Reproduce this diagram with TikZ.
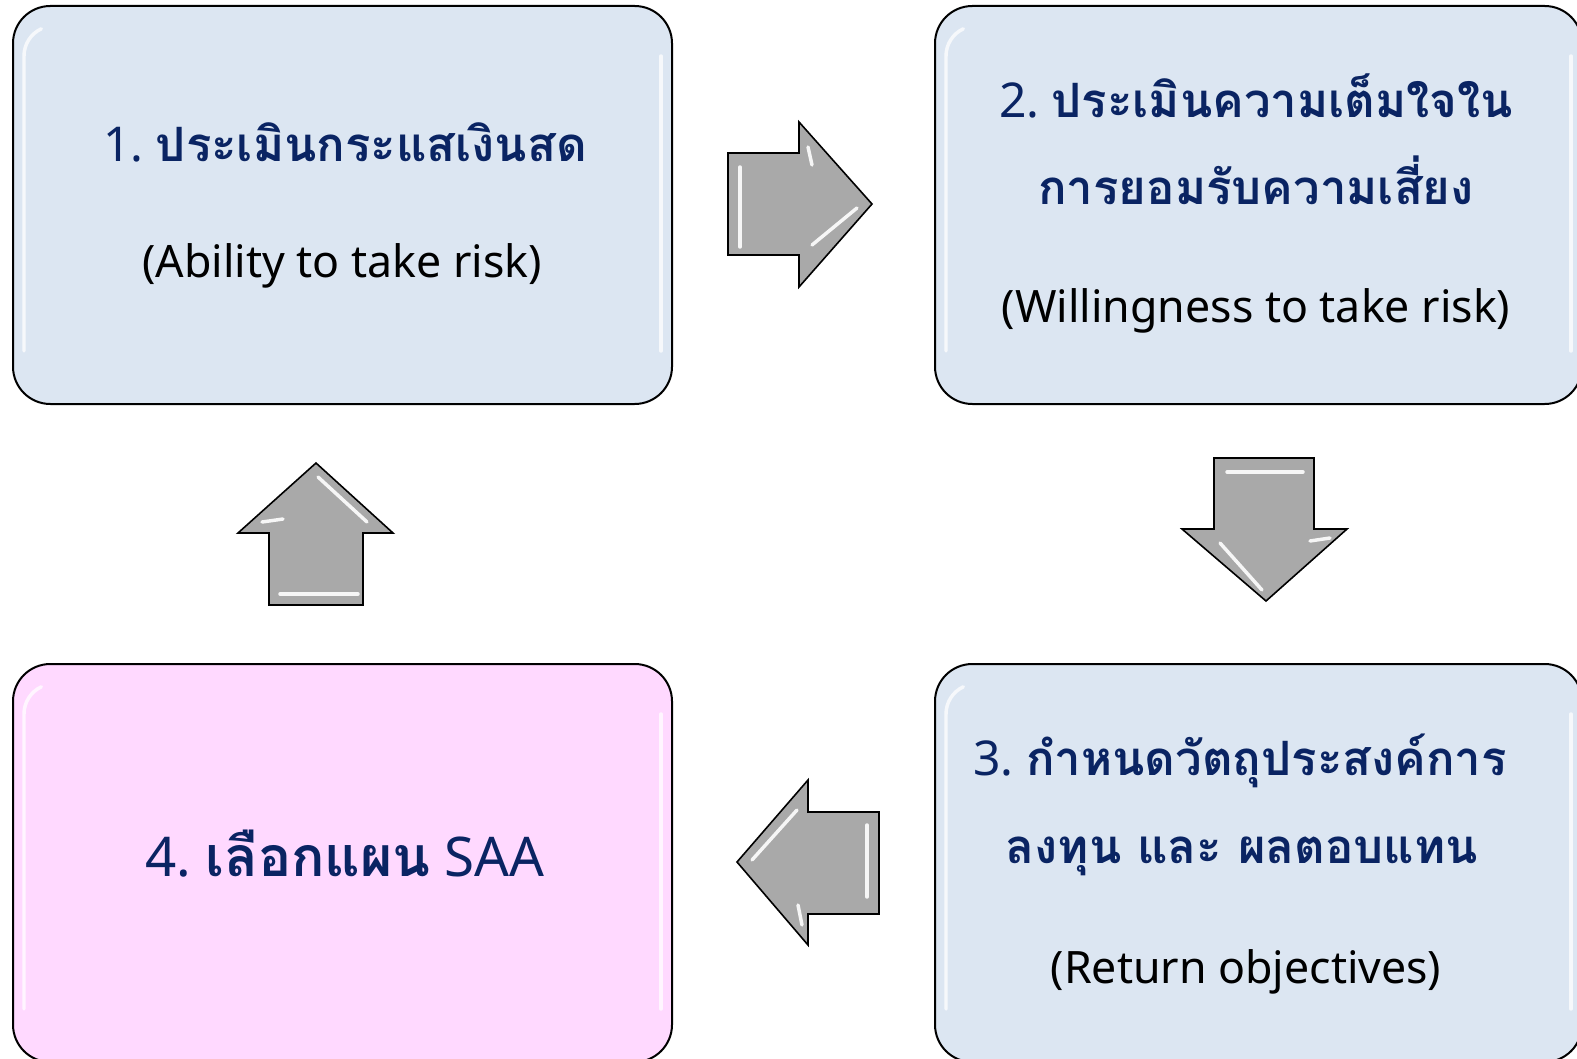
\documentclass[tikz,border=0pt]{standalone}
\usepackage{fontspec}
\newfontfamily\thaifont[Script=Thai]{Loma}
\newfontfamily\latfont{Noto Sans}
\definecolor{boxblue}{HTML}{DCE6F2}
\definecolor{boxpink}{HTML}{FFD9FF}
\definecolor{navy}{HTML}{0A2463}
\definecolor{arrowgrey}{HTML}{A9A9A9}
\newcommand{\thtxt}[1]{{\thaifont\bfseries\fontsize{35.5}{42}\selectfont #1}}
\newcommand{\lttxt}[1]{{\latfont\fontsize{36}{42}\selectfont #1}}
\newcommand{\thbig}[1]{{\thaifont\bfseries\fontsize{41.5}{48}\selectfont #1}}
\newcommand{\ltbig}[1]{{\latfont\fontsize{41}{48}\selectfont #1}}
\begin{document}
\begin{tikzpicture}[x=0.75pt,y=-0.75pt,
  box/.style={draw=black, line width=1.5pt, rounded corners=28pt, minimum height=298.5pt, inner sep=0pt},
  bluebox/.style={box, fill=boxblue},
  pinkbox/.style={box, fill=boxpink},
  title/.style={text=navy, anchor=base, inner sep=0pt},
  sub/.style={font=\latfont\fontsize{33.5}{40}\selectfont, text=black, anchor=base, inner sep=0pt},
  blockarrow/.style={draw=black, line width=1.2pt, fill=arrowgrey, line join=miter},
  gloss/.style={white, line width=2.6pt, line cap=round, opacity=0.9},
  boxgloss/.style={white, line width=2.6pt, line cap=round, opacity=0.75}]
\useasboundingbox (0,0) rectangle (1577,1059);
\clip (0,0) rectangle (1577,1059);
\fill[white] (0,0) rectangle (1577,1059);
% boxes
\node[bluebox, minimum width=494.25pt] (b1) at (342.5,205) {};
\node[bluebox, minimum width=485.25pt] (b2) at (1258.5,205) {};
\node[bluebox, minimum width=485.25pt] (b3) at (1258.5,863) {};
\node[pinkbox, minimum width=494.25pt] (b4) at (342.5,863) {};
% box gloss
\foreach \bx/\by/\bw in {13/6/659, 935/6/647, 935/664/647, 13/664/659}{
  \draw[boxgloss] (\bx+11,\by+345) -- (\bx+11,\by+50) arc[start angle=180,end angle=245,radius=30];
  \draw[boxgloss] (\bx+\bw-11,\by+50) -- (\bx+\bw-11,\by+345);
}
% texts
\node[title] (t1) at (345,162) {\lttxt{1.\ }\thtxt{ประเมินกระแสเงินสด}};
\node[sub] (s1) at (342,277) {(Ability to take risk)};
\node[title] (t2a) at (1256,118) {\lttxt{2.\ }\thtxt{ประเมินความเต็มใจใน}};
\node[title] (t2b) at (1256,205) {\thtxt{การยอมรับความเสี่ยง}};
\node[sub] (s2) at (1256,322) {(Willingness to take risk)};
\node[title] (t3a) at (1240,775) {\lttxt{3.\ }\thtxt{กำหนดวัตถุประสงค์การ}};
\node[title] (t3b) at (1242,863) {\thtxt{ลงทุน และ ผลตอบแทน}};
\node[sub] (s3) at (1246,983) {(Return objectives)};
\node[title] (t4) at (345,876) {\ltbig{4.\ }\thbig{เลือกแผน}\ltbig{\ SAA}};
% block arrows
\draw[blockarrow] (728,153) -- (799,153) -- (799,122) -- (872,204) -- (799,287) -- (799,255) -- (728,255) -- cycle;
\draw[gloss] (740,167) -- (740,247);
\draw[gloss] (857,208) -- (812,245);
\draw[gloss] (808,147) -- (812,165);
\draw[blockarrow] (1214,458) -- (1314,458) -- (1314,529) -- (1347,529) -- (1266,601) -- (1182,529) -- (1214,529) -- cycle;
\draw[gloss] (1227,472) -- (1303,472);
\draw[gloss] (1220,543) -- (1262,590);
\draw[gloss] (1310,541) -- (1330,538);
\draw[blockarrow] (879,812) -- (808,812) -- (808,780) -- (737,862) -- (808,945) -- (808,914) -- (879,914) -- cycle;
\draw[gloss] (867,825) -- (867,897);
\draw[gloss] (752,860) -- (797,810);
\draw[gloss] (798,905) -- (802,925);
\draw[blockarrow] (269,605) -- (269,533) -- (238,533) -- (316,463) -- (393,533) -- (363,533) -- (363,605) -- cycle;
\draw[gloss] (280,594) -- (358,594);
\draw[gloss] (318,477) -- (367,522);
\draw[gloss] (262,522) -- (283,519);
\end{tikzpicture}
\end{document}
